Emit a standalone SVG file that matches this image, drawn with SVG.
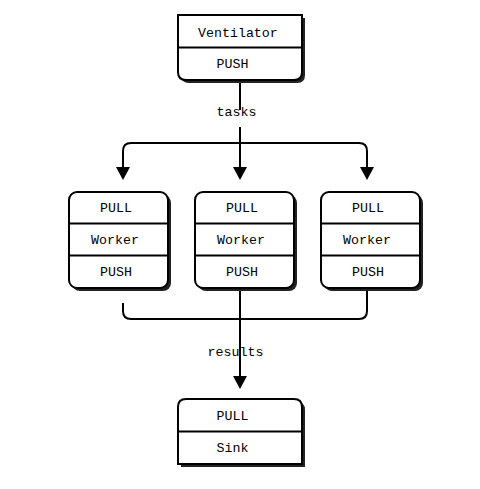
<svg xmlns="http://www.w3.org/2000/svg" width="480" height="489" viewBox="0 0 480 489">
<style>
  .bg { fill: #ffffff; }
  .shadow { fill: #222222; stroke: none; }
  .box { fill: #ffffff; stroke: #000000; stroke-width: 2; }
  .div { stroke: #000000; stroke-width: 2; fill: none; }
  .conn { stroke: #000000; stroke-width: 2; fill: none; }
  .arrow { stroke: #000000; stroke-width: 2; fill: none; marker-end: url(#ah); }
  text { font-family: "Liberation Mono", "Courier New", monospace; font-size: 13.3px; fill: #000000; }
</style>
<defs>
  <marker id="ah" markerUnits="userSpaceOnUse" viewBox="0 0 13 14" refX="9" refY="7" markerWidth="13" markerHeight="14" orient="auto">
    <path d="M0,0 L13,7 L0,14 Z" fill="#000000"/>
  </marker>
  <rect id="wshape" x="0" y="0" width="99" height="96" rx="8" ry="8"/>
</defs>
<rect class="bg" x="0" y="0" width="480" height="489"/>

<g id="connectors">
  <line class="conn" x1="240" y1="80" x2="240" y2="110"/>
  <path class="arrow" d="M240,127 V176"/>
  <path class="arrow" d="M240,143 H131 Q123,143 123,151 V176"/>
  <path class="arrow" d="M240,143 H359 Q367,143 367,151 V176"/>
  <path class="conn" d="M123,303 V311 Q123,319 131,319 H359 Q367,319 367,311 V288"/>
  <path class="arrow" d="M240,288 V385"/>
  <text x="216.5" y="116">tasks</text>
  <text x="207.5" y="356">results</text>
</g>

<g id="ventilator">
  <path class="shadow" d="M181,18 H305 V75 Q305,83 297,83 H189 Q181,83 181,75 Z"/>
  <path class="box" d="M178,15 H302 V72 Q302,80 294,80 H186 Q178,80 178,72 Z"/>
  <line class="div" x1="178" y1="47.5" x2="302" y2="47.5"/>
  <text x="198" y="37">Ventilator</text>
  <text x="216.5" y="68">PUSH</text>
</g>

<g id="worker1" transform="translate(69,192)">
  <use href="#wshape" class="shadow" x="3" y="3"/>
  <use href="#wshape" class="box"/>
  <line class="div" x1="0" y1="31.5" x2="99" y2="31.5"/>
  <line class="div" x1="0" y1="63.5" x2="99" y2="63.5"/>
  <text x="31" y="20">PULL</text>
  <text x="22" y="52">Worker</text>
  <text x="31" y="84">PUSH</text>
</g>

<g id="worker2" transform="translate(195,192)">
  <use href="#wshape" class="shadow" x="3" y="3"/>
  <use href="#wshape" class="box"/>
  <line class="div" x1="0" y1="31.5" x2="99" y2="31.5"/>
  <line class="div" x1="0" y1="63.5" x2="99" y2="63.5"/>
  <text x="31" y="20">PULL</text>
  <text x="22" y="52">Worker</text>
  <text x="31" y="84">PUSH</text>
</g>

<g id="worker3" transform="translate(321,192)">
  <use href="#wshape" class="shadow" x="3" y="3"/>
  <use href="#wshape" class="box"/>
  <line class="div" x1="0" y1="31.5" x2="99" y2="31.5"/>
  <line class="div" x1="0" y1="63.5" x2="99" y2="63.5"/>
  <text x="31" y="20">PULL</text>
  <text x="22" y="52">Worker</text>
  <text x="31" y="84">PUSH</text>
</g>

<g id="sink">
  <path class="shadow" d="M181,410 Q181,402 189,402 H297 Q305,402 305,410 V467 H181 Z"/>
  <path class="box" d="M178,407 Q178,399 186,399 H294 Q302,399 302,407 V464 H178 Z"/>
  <line class="div" x1="178" y1="431.5" x2="302" y2="431.5"/>
  <text x="216.5" y="420">PULL</text>
  <text x="216.5" y="452">Sink</text>
</g>
</svg>
